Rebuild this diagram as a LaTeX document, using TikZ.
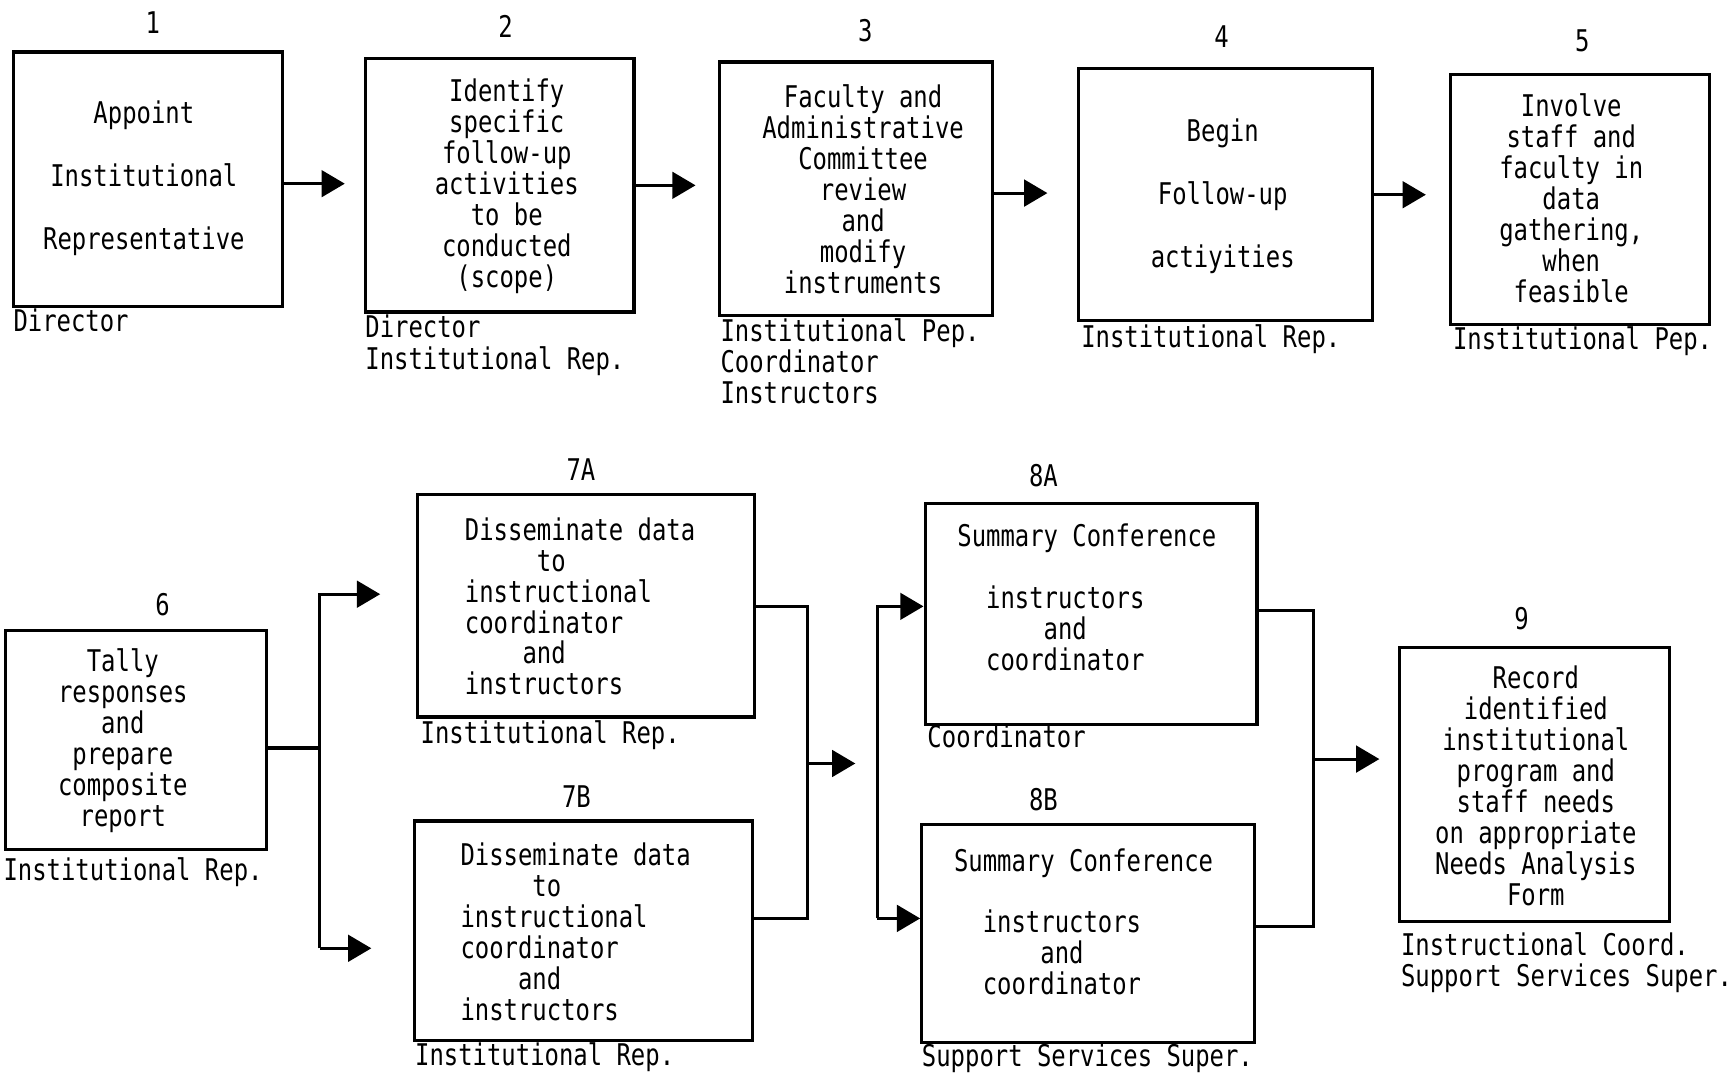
\documentclass[tikz,border=0pt]{standalone}
\usepackage{fontspec}
\setmainfont{DejaVu Sans Mono}[FakeStretch=0.8]
\usetikzlibrary{arrows.meta,calc}
\newcommand\dgfont{\fontsize{27}{28}\selectfont}
\begin{document}
\begin{tikzpicture}[x=1pt,y=-1pt,
  box/.style={draw,line width=2.8pt,inner sep=0pt},
  txt/.style={inner sep=0pt,align=center,font=\dgfont},
  ltxt/.style={inner sep=0pt,align=left,anchor=west,font=\dgfont},
  lbl/.style={inner sep=0pt,align=left,anchor=north west,font=\dgfont},
  num/.style={inner sep=0pt,font=\dgfont},
  conn/.style={line width=2.8pt},
  arr/.style={line width=2.8pt,-{Triangle[length=21pt,width=24pt]}}]
\useasboundingbox (0,0) rectangle (1568,971);
\fill[white] (0,0) rectangle (1568,971);

% ---- row 1 boxes
\node[box,minimum width=243pt,minimum height=230pt] (b1) at (133.5,162) {};
\node[box,minimum width=243pt,minimum height=229pt] (b2) at (451.5,167.5) {};
\node[box,minimum width=247pt,minimum height=229pt] (b3) at (773.5,170.5) {};
\node[box,minimum width=265pt,minimum height=228pt] (b4) at (1107.5,176) {};
\node[box,minimum width=234pt,minimum height=226pt] (b5) at (1428,180) {};

% ---- row 2 boxes
\node[box,minimum width=236pt,minimum height=198pt] (b6) at (123,669) {};
\node[box,minimum width=305pt,minimum height=201pt] (b7a) at (529.5,547.5) {};
\node[box,minimum width=305pt,minimum height=198pt] (b7b) at (527.5,841) {};
\node[box,minimum width=300pt,minimum height=200pt] (b8a) at (986,555) {};
\node[box,minimum width=301pt,minimum height=197pt] (b8b) at (983.5,843.5) {};
\node[box,minimum width=244pt,minimum height=248pt] (b9) at (1387,709) {};

% ---- box texts
\node[txt] (t1) at (130,161) {Appoint\\[29pt]Institutional\\[29pt]Representative};
\node[txt] (t2) at (458,168) {Identify\\specific\\follow-up\\activities\\to be\\conducted\\(scope)};
\node[txt] (t3) at (780,171) {Faculty and\\Administrative\\Committee\\review\\and\\modify\\instruments};
\node[txt] (t4) at (1105,177) {Begin\\[29pt]Follow-up\\[29pt]actiyities};
\node[txt] (t5) at (1420,179) {Involve\\staff and\\faculty in\\data\\gathering,\\when\\feasible};
\node[txt] (t6) at (111,669) {Tally\\responses\\and\\prepare\\composite\\report};
\node[ltxt] (t7a) at (420,548) {Disseminate data\\\phantom{xxxxx}to\\instructional\\coordinator\\\phantom{xxxx}and\\instructors};
\node[ltxt] (t7b) at (416,842) {Disseminate data\\\phantom{xxxxx}to\\instructional\\coordinator\\\phantom{xxxx}and\\instructors};
\node[ltxt] (t8a) at (865,540) {Summary Conference\\[28pt]\phantom{xx}instructors\\\phantom{xxxxxx}and\\\phantom{xx}coordinator};
\node[ltxt] (t8b) at (862,833) {Summary Conference\\[27pt]\phantom{xx}instructors\\\phantom{xxxxxx}and\\\phantom{xx}coordinator};
\node[txt] (t9) at (1388,710) {Record\\identified\\institutional\\program and\\staff needs\\on appropriate\\Needs Analysis\\Form};

% ---- responsibility labels
\node[lbl] (l1) at (12,279) {Director};
\node[lbl] (l2) at (330,284) {Director\\[1pt]Institutional Rep.};
\node[lbl] (l3) at (651,288) {Institutional Pep.\\Coordinator\\Instructors};
\node[lbl] (l4) at (977,293) {Institutional Rep.};
\node[lbl] (l5) at (1313,295) {Institutional Pep.};
\node[lbl] (l6) at (3,775) {Institutional Rep.};
\node[lbl] (l7a) at (380,651) {Institutional Rep.};
\node[lbl] (l7b) at (375,942) {Institutional Rep.};
\node[lbl] (l8a) at (838,655) {Coordinator};
\node[lbl] (l8b) at (833,943) {Support Services Super.};
\node[lbl] (l9) at (1266,843) {Instructional Coord.\\Support Services Super.};

% ---- step numbers
\node[num] (n1) at (138,20) {1};
\node[num] (n2) at (457,24) {2};
\node[num] (n3) at (782,28) {3};
\node[num] (n4) at (1104,33) {4};
\node[num] (n5) at (1430,37) {5};
\node[num] (n6) at (147,546) {6};
\node[num] (n7a) at (525,424) {7A};
\node[num] (n7b) at (521,720) {7B};
\node[num] (n8a) at (943,430) {8A};
\node[num] (n8b) at (943,723) {8B};
\node[num] (n9) at (1375,559) {9};

% ---- row 1 connectors
\draw[arr,shorten >=17pt] ([yshift=-4pt]b1.east) -- ([yshift=-4pt]b1.east -| b2.west);
\draw[arr,shorten >=20pt] (b2.east) -- (b2.east -| b3.west);
\draw[arr,shorten >=27pt] ([yshift=-4pt]b3.east) -- ([yshift=-4pt]b3.east -| b4.west);
\draw[arr,shorten >=21pt] (b4.east) -- (b4.east -| b5.west);

% ---- row 2 connectors
\coordinate (j7a) at (289,537);
\coordinate (j7b) at (289,857);
\draw[conn] ([yshift=-7pt]b6.east) -- ([yshift=-7pt]b6.east -| j7a);
\draw[arr,shorten >=32pt] (j7b) -- (j7a) -- (j7a -| b7a.west);
\draw[arr,shorten >=38pt] (j7b) -- (j7b -| b7b.west);

\coordinate (k7a) at (730,548);
\coordinate (k7b) at (730,830);
\coordinate (k7m) at (730,690);
\coordinate (j8a) at (793,548);
\coordinate (j8b) at (793,830);
\draw[conn] (b7a.east |- k7a) -- (k7a) -- (k7b) -- (b7b.east |- k7b);
\draw[arr,shorten >=20pt] (k7m) -- (k7m -| j8a);
\draw[arr] (j8b) -- (j8a) -- (j8a -| b8a.west);
\draw[arr] (j8b) -- (j8b -| b8b.west);

\coordinate (k8a) at (1187,552);
\coordinate (k8b) at (1187,837);
\coordinate (k8m) at (1187,686);
\draw[conn] (b8a.east |- k8a) -- (k8a) -- (k8b) -- (b8b.east |- k8b);
\draw[arr,shorten >=17pt] (k8m) -- (k8m -| b9.west);
\end{tikzpicture}
\end{document}
